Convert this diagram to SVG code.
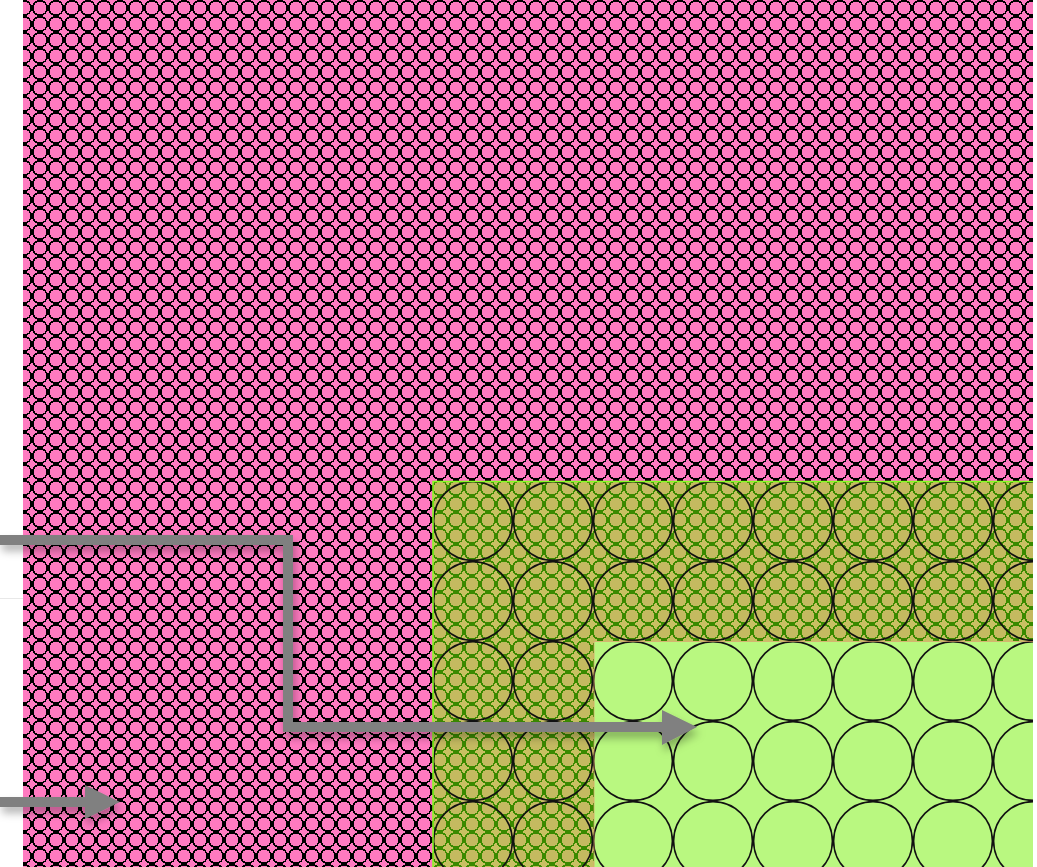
<svg xmlns="http://www.w3.org/2000/svg" width="1037" height="867" viewBox="0 0 1037 867">
<style>
.conn{fill:none;stroke:#808080;stroke-width:10;stroke-linejoin:miter}
.head{fill:#808080}
.dot{shape-rendering:crispEdges}
</style>
<defs>
<pattern id="pinkDots" x="0" y="0" width="16" height="16" patternUnits="userSpaceOnUse">
<rect width="16" height="16" fill="#ff7ac0"/>
<circle class="dot" cx="8" cy="8" r="7.3" fill="#ff7ac0" stroke="#000" stroke-width="1.5"/>
</pattern>
<pattern id="oliveDots" x="0" y="0" width="16" height="16" patternUnits="userSpaceOnUse">
<rect width="16" height="16" fill="#c8c062"/>
<circle class="dot" cx="8" cy="8" r="7.3" fill="#c4ba60" stroke="#3a8a00" stroke-width="1.5"/>
</pattern>
<pattern id="bigCircles" x="433" y="481" width="80" height="80" patternUnits="userSpaceOnUse">
<circle cx="40" cy="40" r="39.4" fill="none" stroke="#111" stroke-width="1.6"/>
</pattern>
<filter id="shadow" x="-10%" y="-10%" width="130%" height="130%">
<feDropShadow dx="2" dy="6" stdDeviation="4" flood-color="#000" flood-opacity="0.3"/>
</filter>
</defs>
<rect width="1037" height="867" fill="#ffffff"/>
<line x1="0" y1="598.5" x2="23" y2="598.5" stroke="#e8e8e8" stroke-width="1"/>
<g id="pink-area">
<rect x="23" y="0" width="1010" height="867" fill="url(#pinkDots)"/>
</g>
<g id="olive-area">
<path d="M433,481 H1033 V641 H594 V867 H433 Z" fill="url(#oliveDots)"/>
<path d="M433,481 H1033 V641 H594 V867 H433 Z" fill="url(#bigCircles)"/>
<path d="M433,867 V481.5 H1033" fill="none" stroke="#88ff22" stroke-width="1.5"/>
</g>
<g id="light-area">
<rect x="594" y="641" width="439" height="226" fill="#b9f880"/>
<rect x="594" y="641" width="439" height="226" fill="url(#bigCircles)"/>
<path d="M594,867 V641.5 H1033" fill="none" stroke="#e09a6a" stroke-width="1" stroke-opacity="0.7"/>
</g>
<g id="connectors" filter="url(#shadow)">
<path class="conn" d="M0,540 H288 V727 H664"/>
<polygon class="head" points="662,710 697,727 662,745"/>
<path class="conn" d="M0,802 H88"/>
<polygon class="head" points="85,785 120,802 85,819"/>
</g>
</svg>
